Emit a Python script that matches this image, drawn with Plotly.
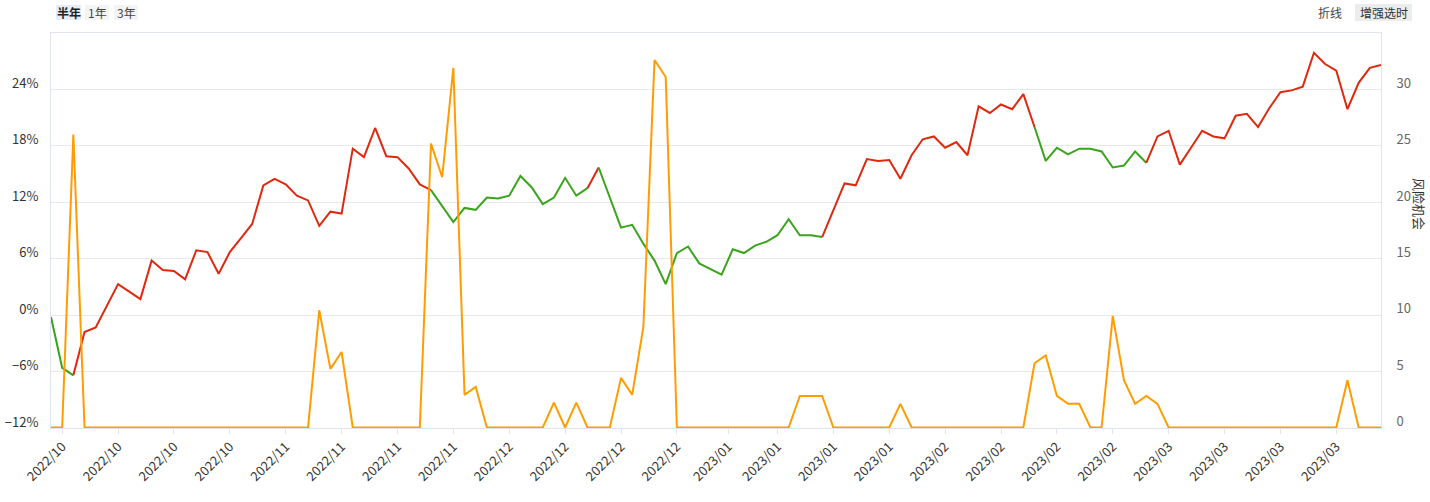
import plotly.graph_objects as go

# ---------------- data ----------------
ret_pct = [
    -0.2, -5.6, -6.4, -1.8, -1.3, 1.0, 3.3, 2.5, 1.7, 5.8,
    4.8, 4.7, 3.8, 6.9, 6.7, 4.4, 6.7, 8.2, 9.7, 13.8,
    14.5, 13.9, 12.7, 12.2, 9.5, 11.0, 10.8, 17.7, 16.8, 19.9,
    16.9, 16.8, 15.6, 13.9, 13.3, 11.6, 9.9, 11.4, 11.2, 12.5,
    12.4, 12.7, 14.8, 13.6, 11.8, 12.5, 14.6, 12.7, 13.5, 15.7,
    12.5, 9.3, 9.6, 7.6, 5.8, 3.3, 6.6, 7.3, 5.5, 4.9,
    4.3, 7.0, 6.6, 7.4, 7.8, 8.5, 10.2, 8.5, 8.5, 8.3,
    11.2, 14.0, 13.8, 16.6, 16.4, 16.5, 14.5, 17.0, 18.7, 19.0,
    17.8, 18.4, 17.0, 22.2, 21.5, 22.4, 21.9, 23.5, 20.0, 16.4,
    17.8, 17.1, 17.7, 17.7, 17.4, 15.7, 15.9, 17.4, 16.2, 19.0,
    19.6, 16.0, 17.8, 19.6, 19.0, 18.8, 21.2, 21.4, 20.0, 22.0,
    23.7, 23.9, 24.3, 27.9, 26.7, 26.0, 21.9, 24.7, 26.3, 26.6,
]

risk_opp = [
    0, 0, 26.0, 0, 0, 0, 0, 0, 0, 0,
    0, 0, 0, 0, 0, 0, 0, 0, 0, 0,
    0, 0, 0, 0, 10.4, 5.2, 6.7, 0, 0, 0,
    0, 0, 0, 0, 25.2, 22.2, 31.9, 2.9, 3.6, 0,
    0, 0, 0, 0, 0, 2.2, 0, 2.2, 0, 0,
    0, 4.4, 2.9, 8.9, 32.6, 31.1, 0, 0, 0, 0,
    0, 0, 0, 0, 0, 0, 0, 2.8, 2.8, 2.8,
    0, 0, 0, 0, 0, 0, 2.1, 0, 0, 0,
    0, 0, 0, 0, 0, 0, 0, 0, 5.7, 6.4,
    2.8, 2.1, 2.1, 0, 0, 9.9, 4.2, 2.1, 2.8, 2.1,
    0, 0, 0, 0, 0, 0, 0, 0, 0, 0,
    0, 0, 0, 0, 0, 0, 4.2, 0, 0, 0,
]

# regime change points (index) of the main line; regimes alternate down/up
regime_breaks = [0, 2, 34, 48, 49, 69, 88, 98, 119]
regime_first = "down"

tick_idx = [1, 6, 11, 16, 21, 26, 31, 36, 41, 46, 51, 56,
            60.6, 65, 70, 75, 80, 85, 90, 95, 100, 105, 110, 115]
tick_text = ["2022/10"] * 4 + ["2022/11"] * 4 + ["2022/12"] * 4 + \
            ["2023/01"] * 4 + ["2023/02"] * 4 + ["2023/03"] * 4

left_ticks = [-12, -6, 0, 6, 12, 18, 24]
right_ticks = [0, 5, 10, 15, 20, 25, 30]

# ---------------- figure ----------------
RED = "#e0280e"
GREEN = "#3aa41c"
ORANGE = "#ff9d00"
FONT = "Microsoft YaHei, Noto Sans CJK SC, sans-serif"

W, H = 1430, 502
ML, MR, MT, MB = 51, 49, 33, 74

fig = go.Figure()

x_all = list(range(len(ret_pct)))

fig.add_trace(go.Scatter(
    x=x_all, y=risk_opp, yaxis="y2", mode="lines",
    line=dict(color=ORANGE, width=2), name="风险机会", hoverinfo="skip",
))

for k in range(len(regime_breaks) - 1):
    a, b = regime_breaks[k], regime_breaks[k + 1]
    down = (k % 2 == 0) == (regime_first == "down")
    fig.add_trace(go.Scatter(
        x=x_all[a:b + 1], y=ret_pct[a:b + 1], mode="lines",
        line=dict(color=GREEN if down else RED, width=2),
        showlegend=False, hoverinfo="skip",
    ))

GRID = "#e8e8e8"
AXL = "#dfe4ee"


def pct_label(v):
    return (f"−{abs(v)}%" if v < 0 else f"{v}%")


fig.update_layout(
    width=W, height=H,
    margin=dict(l=ML, r=MR, t=MT, b=MB),
    paper_bgcolor="white", plot_bgcolor="white",
    showlegend=False,
    font=dict(family=FONT, size=13, color="#333"),
    xaxis=dict(
        range=[0, len(ret_pct) - 1], tickmode="array",
        tickvals=tick_idx, ticktext=tick_text, tickangle=-45,
        showgrid=False, zeroline=False,
        showline=True, linecolor=AXL, linewidth=1, mirror=True,
        ticks="outside", ticklen=5, tickcolor=AXL,
        tickfont=dict(size=13, color="#333"),
        layer="below traces", automargin=False,
    ),
    yaxis=dict(
        range=[-12, 30], tickmode="array", tickvals=left_ticks,
        ticktext=[pct_label(v) for v in left_ticks],
        showgrid=True, gridcolor=GRID, zeroline=False,
        showline=True, linecolor=AXL, linewidth=1,
        ticks="", tickfont=dict(size=13, color="#333"),
        ticklabelstandoff=9, ticklabelshift=-6,
        layer="below traces", automargin=False,
    ),
    yaxis2=dict(
        range=[-0.045, 35], overlaying="y", side="right",
        tickmode="array", tickvals=right_ticks,
        showgrid=False, zeroline=False,
        showline=True, linecolor=AXL, linewidth=1,
        ticks="", tickfont=dict(size=13, color="#666"),
        ticklabelstandoff=12, ticklabelshift=-6,
        layer="below traces", automargin=False,
    ),
)


def px_x(px):
    return (px - ML) / (W - ML - MR)


def px_y(py):
    return (H - MB - py) / (H - MT - MB)


# buttons top-left
buttons = [("半年", 56, 81, "#e6edf7", True), ("1年", 85, 109, "#f4f4f4", False),
           ("3年", 114, 138, "#f4f4f4", False)]
for txt, x0, x1, bg, bold in buttons:
    fig.add_shape(type="rect", xref="paper", yref="paper",
                  x0=px_x(x0), x1=px_x(x1), y0=px_y(20), y1=px_y(5),
                  fillcolor=bg, line=dict(width=0), layer="below")
    fig.add_annotation(xref="paper", yref="paper", x=px_x((x0 + x1) / 2), y=px_y(12.5),
                       text=f"<b>{txt}</b>" if bold else txt, showarrow=False,
                       font=dict(size=12, color="#222" if bold else "#444", family=FONT),
                       xanchor="center", yanchor="middle")

# buttons top-right
fig.add_annotation(xref="paper", yref="paper", x=px_x(1330), y=px_y(12.5),
                   text="折线", showarrow=False,
                   font=dict(size=12, color="#444", family=FONT),
                   xanchor="center", yanchor="middle")
fig.add_shape(type="rect", xref="paper", yref="paper",
              x0=px_x(1355), x1=px_x(1412), y0=px_y(21), y1=px_y(4),
              fillcolor="#ececec", line=dict(width=0), layer="below")
fig.add_annotation(xref="paper", yref="paper", x=px_x(1383.5), y=px_y(12.5),
                   text="增强选时", showarrow=False,
                   font=dict(size=12, color="#333", family=FONT),
                   xanchor="center", yanchor="middle")

# right axis title
fig.add_annotation(xref="paper", yref="paper", x=px_x(1420), y=px_y(204),
                   text="风险机会", showarrow=False, textangle=90,
                   font=dict(size=13, color="#333", family=FONT),
                   xanchor="center", yanchor="middle")

fig.write_html("out.html")
